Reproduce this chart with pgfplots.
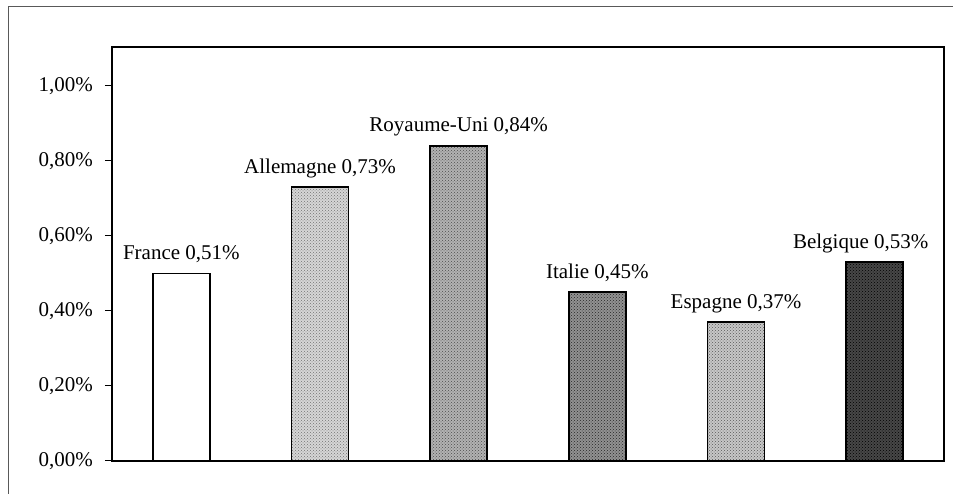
\documentclass[border=0pt]{standalone}
\usepackage{fontspec}
\setmainfont{Liberation Serif}
\usepackage{pgfplots}
\pgfplotsset{compat=1.18}
\usetikzlibrary{patterns}
\definecolor{cFra}{gray}{1.00}
\definecolor{cAll}{gray}{0.84}
\definecolor{cRU}{gray}{0.70}
\definecolor{cIta}{gray}{0.57}
\definecolor{cEsp}{gray}{0.78}
\definecolor{cBel}{gray}{0.28}
\begin{document}
\begin{tikzpicture}[x=1pt,y=1pt]
\useasboundingbox (0,0) rectangle (953,494);
% outer frame
\draw[black!65, line width=1pt] (8,0) -- (8,487) -- (953,487);
\begin{axis}[
  at={(112pt,33pt)}, anchor=south west,
  scale only axis,
  width=832pt, height=414pt,
  ybar, bar width=57pt,
  xmin=-0.5, xmax=5.5,
  ymin=0, ymax=1.104,
  xtick=\empty,
  ytick={0,0.2,0.4,0.6,0.8,1.0},
  yticklabel={\pgfmathprintnumber[fixed,fixed zerofill,precision=2,use comma,assume math mode=true]{\tick}\%},
  tick align=outside,
  major tick length=7pt,
  ytick pos=left,
  axis line style={line width=1.6pt},
  tick style={line width=1pt, black},
  yticklabel style={font=\fontsize{21}{25}\selectfont, inner sep=0pt, xshift=-12pt},
  every node near coord/.append style={font=\fontsize{21}{25}\selectfont, anchor=base, yshift=14pt, inner sep=0pt},
  every axis plot/.append style={draw=black, line width=1.6pt, bar shift=0pt},
  dots/.style={postaction={pattern=crosshatch dots, pattern color=#1}},
]
  \addplot[fill=cFra, nodes near coords={France 0,51\%}] coordinates {(0,0.50)};
  \addplot[fill=cAll, dots=black!55, nodes near coords={Allemagne 0,73\%}] coordinates {(1,0.73)};
  \addplot[fill=cRU, dots=black!70, nodes near coords={Royaume-Uni 0,84\%}] coordinates {(2,0.84)};
  \addplot[fill=cIta, dots=black!85, nodes near coords={Italie 0,45\%}] coordinates {(3,0.45)};
  \addplot[fill=cEsp, dots=black!65, nodes near coords={Espagne 0,37\%}] coordinates {(4,0.37)};
  \addplot[fill=cBel, dots=black, nodes near coords={Belgique 0,53\%},
    every node near coord/.append style={xshift=-14pt}] coordinates {(5,0.53)};
\end{axis}
\end{tikzpicture}
\end{document}
